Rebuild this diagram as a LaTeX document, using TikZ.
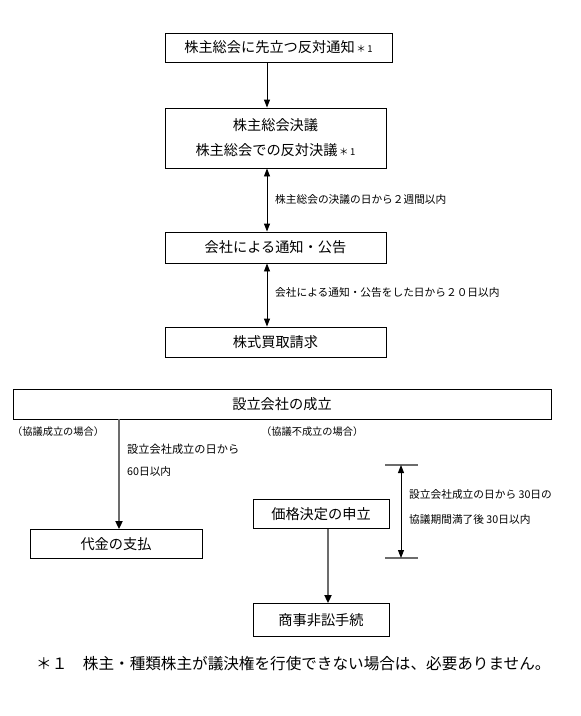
\documentclass[tikz,border=0pt]{standalone}
\usepackage{fontspec}
\setmainfont{Noto Sans CJK JP}
\usetikzlibrary{arrows.meta}
\tikzset{
  box/.style={draw=black, line width=0.9pt, rectangle, inner sep=0pt, font=\fontsize{14.2}{25}\selectfont, align=center},
  arr/.style={line width=0.9pt, -{Triangle[length=8pt,width=6pt]}},
  darr/.style={line width=0.9pt, {Triangle[length=8pt,width=6pt]}-{Triangle[length=8pt,width=6pt]}},
  garr/.style={draw=gray!85!black, line width=2pt, -{Triangle[length=8pt,width=7pt,color=black]}},
  dimtick/.style={draw=gray!85!black, line width=2pt},
  lbl/.style={font=\fontsize{10.7}{12}\selectfont, anchor=west, inner sep=0pt},
  caselbl/.style={font=\fontsize{10.2}{12}\selectfont, anchor=west, inner sep=0pt}
}
\newcommand{\astone}{{\fontsize{9.5}{9.5}\selectfont\,＊\,1}}
\begin{document}
\begin{tikzpicture}[x=1pt,y=-1pt]
\useasboundingbox (0,0) rectangle (581,716);
% top chain
\node[box, minimum width=227pt, minimum height=29pt] (n1) at (278.5,47.5) {株主総会に先立つ反対通知\astone};
\node[box, minimum width=221pt, minimum height=60pt] (n2) at (275.5,138) {株主総会決議\\株主総会での反対決議\astone};
\node[box, minimum width=221pt, minimum height=31pt] (n3) at (275.5,247.5) {会社による通知・公告};
\node[box, minimum width=221pt, minimum height=30pt] (n4) at (275.5,342) {株式買取請求};
\coordinate (cx) at (267,0);
\draw[arr] (n1.south -| cx) -- (n2.north -| cx);
\draw[darr] (n2.south -| cx) -- (n3.north -| cx);
\draw[darr] (n3.south -| cx) -- (n4.north -| cx);
\node[lbl] (l1) at (275,199) {株主総会の決議の日から２週間以内};
\node[lbl] (l2) at (275,292) {会社による通知・公告をした日から２０日以内};
% establishment
\node[box, minimum width=538pt, minimum height=30pt] (n5) at (282,404) {設立会社の成立};
\node[caselbl] (c1) at (12,432) {（協議成立の場合）};
\node[caselbl] (c2) at (261,432) {（協議不成立の場合）};
\node[lbl, font=\fontsize{11.2}{12}\selectfont] (l3) at (127,449) {設立会社成立の日から};
\node[lbl] (l4) at (127,471) {60日以内};
\node[box, minimum width=172pt, minimum height=29pt] (n6) at (116,544) {代金の支払};
\coordinate (lx) at (119,0);
\draw[garr] (n5.south -| lx) -- (n6.north -| lx);
\node[box, minimum width=136pt, minimum height=29pt] (n7) at (321,514) {価格決定の申立};
\node[box, minimum width=136pt, minimum height=33pt] (n8) at (321,620) {商事非訟手続};
\coordinate (mx) at (328,0);
\draw[garr] (n7.south -| mx) -- (n8.north -| mx);
% dimension
\coordinate (t1a) at (385,465);
\coordinate (t1b) at (418,465);
\coordinate (t2a) at (385,558);
\coordinate (t2b) at (418,558);
\coordinate (d1) at (401,465);
\coordinate (d2) at (401,558);
\draw[dimtick] (t1a) -- (t1b);
\draw[dimtick] (t2a) -- (t2b);
\draw[darr] (d1) -- (d2);
\node[lbl] (l5) at (409,494) {設立会社成立の日から 30日の};
\node[lbl] (l6) at (409,519) {協議期間満了後 30日以内};
% footnote
\node[anchor=west, inner sep=0pt, font=\fontsize{15.6}{17}\selectfont] (fn) at (36,664) {＊１　株主・種類株主が議決権を行使できない場合は、必要ありません。};
\end{tikzpicture}
\end{document}
